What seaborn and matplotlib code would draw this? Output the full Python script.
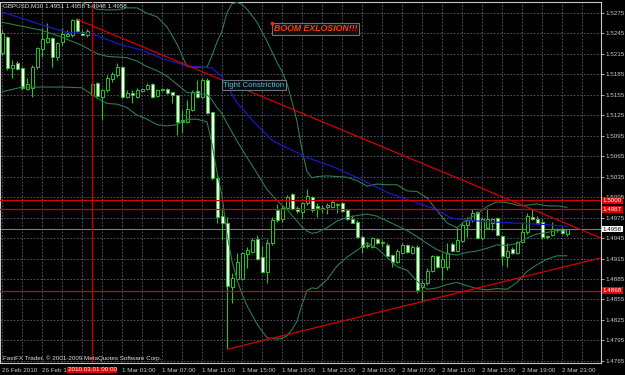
import matplotlib
matplotlib.use("Agg")
import matplotlib.pyplot as plt
import matplotlib.transforms as mtransforms
import pandas as pd
import seaborn as sns

# GBPUSD M30, values
bar_times = list(pd.date_range("2010-02-26 14:00", "2010-02-26 22:30", freq="30min")) + \
    list(pd.date_range("2010-03-01 00:00", "2010-03-02 23:30", freq="30min"))

opens = [1.5216, 1.5239, 1.5194, 1.5201, 1.5194, 1.5163, 1.5165, 1.5195, 1.5222, 1.5232,
         1.5238, 1.5210, 1.5232, 1.5241, 1.5242, 1.5266, 1.5247, 1.5242, 1.5154, 1.5172,
         1.5151, 1.5162, 1.5178, 1.5184, 1.5195, 1.5151, 1.5157, 1.5151, 1.5160, 1.5163,
         1.5170, 1.5153, 1.5162, 1.5163, 1.5159, 1.5154, 1.5118, 1.5115, 1.5132, 1.5160,
         1.5151, 1.5176, 1.5129, 1.5033, 1.4977, 1.4967, 1.4873, 1.4885, 1.4885, 1.4921,
         1.4924, 1.4943, 1.4917, 1.4895, 1.4938, 1.4986, 1.4973, 1.4989, 1.5009, 1.4989,
         1.4983, 1.4996, 1.5005, 1.4992, 1.4989, 1.4990, 1.4990, 1.4993, 1.4996, 1.4986,
         1.4973, 1.4968, 1.4946, 1.4933, 1.4932, 1.4943, 1.4938, 1.4935, 1.4920, 1.4910,
         1.4923, 1.4935, 1.4923, 1.4932, 1.4873, 1.4879, 1.4897, 1.4919, 1.4902, 1.4902,
         1.4936, 1.4926, 1.4940, 1.4964, 1.4971, 1.4983, 1.4945, 1.4960, 1.4967, 1.4974,
         1.4948, 1.4917, 1.4929, 1.4923, 1.4939, 1.4954, 1.4976, 1.4973, 1.4968, 1.4948,
         1.4949, 1.4957, 1.4958, 1.4951]
highs = [1.5249, 1.5241, 1.5206, 1.5204, 1.5195, 1.5179, 1.5198, 1.5224, 1.5252, 1.5260,
         1.5239, 1.5232, 1.5252, 1.5249, 1.5266, 1.5267, 1.5249, 1.5251, 1.5172, 1.5173,
         1.5163, 1.5184, 1.5188, 1.5201, 1.5197, 1.5162, 1.5162, 1.5165, 1.5165, 1.5172,
         1.5172, 1.5163, 1.5165, 1.5165, 1.5159, 1.5154, 1.5132, 1.5147, 1.5162, 1.5176,
         1.5179, 1.5179, 1.5129, 1.5040, 1.4989, 1.4976, 1.4894, 1.4923, 1.4924, 1.4932,
         1.4945, 1.4949, 1.4933, 1.4943, 1.4976, 1.4995, 1.4993, 1.5008, 1.5011, 1.4992,
         1.4998, 1.5017, 1.5006, 1.4996, 1.4993, 1.4996, 1.5000, 1.4996, 1.4998, 1.4987,
         1.4979, 1.4971, 1.4949, 1.4939, 1.4946, 1.4945, 1.4942, 1.4938, 1.4921, 1.4929,
         1.4938, 1.4936, 1.4935, 1.4935, 1.4883, 1.4901, 1.4920, 1.4920, 1.4923, 1.4938,
         1.4939, 1.4961, 1.4967, 1.4976, 1.4987, 1.4984, 1.4976, 1.4989, 1.4974, 1.4976,
         1.4949, 1.4938, 1.4932, 1.4940, 1.4968, 1.4981, 1.4987, 1.4977, 1.4973, 1.4949,
         1.4968, 1.4960, 1.4961, 1.4958]
lows = [1.5213, 1.5191, 1.5179, 1.5191, 1.5162, 1.5162, 1.5151, 1.5192, 1.5210, 1.5230,
        1.5195, 1.5206, 1.5227, 1.5239, 1.5239, 1.5247, 1.5242, 1.5239, 1.5147, 1.5151,
        1.5118, 1.5159, 1.5173, 1.5181, 1.5150, 1.5150, 1.5143, 1.5150, 1.5159, 1.5162,
        1.5150, 1.5151, 1.5160, 1.5156, 1.5143, 1.5096, 1.5099, 1.5113, 1.5131, 1.5150,
        1.5150, 1.5126, 1.5030, 1.4967, 1.4942, 1.4782, 1.4850, 1.4883, 1.4883, 1.4901,
        1.4923, 1.4913, 1.4894, 1.4879, 1.4935, 1.4968, 1.4968, 1.4986, 1.4986, 1.4981,
        1.4974, 1.4993, 1.4983, 1.4976, 1.4981, 1.4980, 1.4989, 1.4981, 1.4983, 1.4971,
        1.4967, 1.4945, 1.4923, 1.4930, 1.4930, 1.4936, 1.4932, 1.4917, 1.4902, 1.4908,
        1.4921, 1.4923, 1.4921, 1.4864, 1.4851, 1.4876, 1.4895, 1.4901, 1.4883, 1.4898,
        1.4924, 1.4924, 1.4939, 1.4946, 1.4968, 1.4943, 1.4942, 1.4958, 1.4957, 1.4948,
        1.4905, 1.4902, 1.4921, 1.4921, 1.4938, 1.4951, 1.4971, 1.4965, 1.4943, 1.4943,
        1.4948, 1.4954, 1.4951, 1.4948]
closes = [1.5245, 1.5194, 1.5198, 1.5192, 1.5165, 1.5170, 1.5195, 1.5223, 1.5236, 1.5238,
          1.5210, 1.5230, 1.5244, 1.5244, 1.5264, 1.5248, 1.5242, 1.5248, 1.5170, 1.5153,
          1.5162, 1.5179, 1.5185, 1.5195, 1.5151, 1.5157, 1.5154, 1.5162, 1.5163, 1.5169,
          1.5151, 1.5162, 1.5163, 1.5157, 1.5154, 1.5115, 1.5115, 1.5134, 1.5159, 1.5151,
          1.5176, 1.5128, 1.5033, 1.4976, 1.4967, 1.4875, 1.4886, 1.4910, 1.4923, 1.4927,
          1.4942, 1.4914, 1.4895, 1.4938, 1.4971, 1.4971, 1.4989, 1.5005, 1.4987, 1.4984,
          1.4996, 1.5006, 1.4986, 1.4989, 1.4987, 1.4993, 1.4998, 1.4995, 1.4984, 1.4973,
          1.4967, 1.4946, 1.4932, 1.4935, 1.4945, 1.4938, 1.4939, 1.4919, 1.4910, 1.4926,
          1.4935, 1.4924, 1.4932, 1.4869, 1.4879, 1.4897, 1.4919, 1.4902, 1.4914, 1.4923,
          1.4926, 1.4942, 1.4964, 1.4971, 1.4981, 1.4945, 1.4973, 1.4973, 1.4973, 1.4949,
          1.4919, 1.4926, 1.4923, 1.4939, 1.4954, 1.4977, 1.4973, 1.4967, 1.4946, 1.4946,
          1.4958, 1.4958, 1.4952, 1.4958]

# Bollinger bands (read at every second bar or so)
band_idx = [0, 4, 8, 12, 16, 19, 21, 23, 25, 27, 29, 31, 33, 35, 37, 39, 41, 42, 43, 44,
            45, 46, 47, 48, 49, 51, 53, 55, 56, 57, 58, 59, 60, 61, 62, 63, 65, 67, 69, 71,
            73, 75, 77, 79, 81, 83, 85, 87, 89, 91, 93, 95, 97, 99, 101, 103, 105, 107, 109,
            111, 113]
band_upper = [1.5364, 1.5345, 1.5333, 1.5312, 1.5290, 1.5280, 1.5279, 1.5279, 1.5282, 1.5282,
              1.5274, 1.5269, 1.5254, 1.5229, 1.5196, 1.5195, 1.5195, 1.5212, 1.5232, 1.5248,
              1.5275, 1.5288, 1.5290, 1.5287, 1.5280, 1.5261, 1.5233, 1.5202, 1.5189, 1.5171,
              1.5145, 1.5116, 1.5074, 1.5042, 1.5033, 1.5035, 1.5036, 1.5035, 1.5034, 1.5029,
              1.5021, 1.5024, 1.5023, 1.5023, 1.5014, 1.5013, 1.5004, 1.4985, 1.4967, 1.4960,
              1.4972, 1.4980, 1.4991, 1.4998, 1.4997, 1.4993, 1.4993, 1.4995, 1.4992, 1.4992,
              1.4990]
band_mid = [1.5261, 1.5255, 1.5249, 1.5239, 1.5227, 1.5215, 1.5211, 1.5210, 1.5209, 1.5204,
            1.5196, 1.5190, 1.5182, 1.5170, 1.5158, 1.5157, 1.5155, 1.5147, 1.5136, 1.5127,
            1.5113, 1.5100, 1.5087, 1.5075, 1.5063, 1.5040, 1.5016, 1.5000, 1.4993, 1.4987,
            1.4978, 1.4970, 1.4961, 1.4955, 1.4952, 1.4953, 1.4960, 1.4970, 1.4975, 1.4978,
            1.4980, 1.4977, 1.4970, 1.4963, 1.4956, 1.4947, 1.4937, 1.4928, 1.4922, 1.4920,
            1.4924, 1.4926, 1.4930, 1.4935, 1.4934, 1.4937, 1.4945, 1.4951, 1.4953, 1.4956,
            1.4955]
band_lower = [1.5159, 1.5166, 1.5166, 1.5166, 1.5165, 1.5150, 1.5142, 1.5141, 1.5136, 1.5125,
              1.5119, 1.5111, 1.5109, 1.5111, 1.5119, 1.5119, 1.5115, 1.5083, 1.5041, 1.5007,
              1.4951, 1.4911, 1.4884, 1.4863, 1.4846, 1.4819, 1.4799, 1.4797, 1.4798, 1.4802,
              1.4811, 1.4823, 1.4848, 1.4868, 1.4872, 1.4871, 1.4884, 1.4904, 1.4917, 1.4927,
              1.4938, 1.4930, 1.4917, 1.4903, 1.4898, 1.4882, 1.4870, 1.4872, 1.4877, 1.4880,
              1.4875, 1.4871, 1.4869, 1.4871, 1.4870, 1.4880, 1.4896, 1.4906, 1.4914, 1.4919,
              1.4919]

# blue moving average
ma_idx = [0, 8, 13, 18, 23, 28, 32, 37, 42, 44, 47, 50, 54, 57, 61, 67, 72, 77, 82, 86,
          90, 95, 102, 108, 113]
ma_vals = [1.5276, 1.5257, 1.5246, 1.5244, 1.5230, 1.5220, 1.5208, 1.5197, 1.5194, 1.5181,
           1.5143, 1.5118, 1.5088, 1.5077, 1.5063, 1.5047, 1.5030, 1.5012, 1.4999, 1.4989,
           1.4974, 1.4970, 1.4967, 1.4965, 1.4962]

# drawn objects
trend_hi_idx, trend_hi_px = [15, 119.8], [1.5265, 1.4945]
trend_lo_idx, trend_lo_px = [45, 119.8], [1.4782, 1.4916]
level_lines = [1.5000, 1.4987, 1.4868]
bid_price = 1.4958
vline_idx = 18
price_ticks = [1.4765 + 0.003 * k for k in range(18)]

BG = "#000000"
GRID = "#5a6270"
CANDLE = "#26c426"
BAND = "#2e7a4e"
MA_BLUE = "#1818c8"
RED = "#d40000"
AXC = "#c8c8c8"
FS = 4.5

sns.set_theme(style="dark", rc={
    "axes.facecolor": BG,
    "figure.facecolor": BG,
    "axes.edgecolor": AXC,
    "xtick.color": AXC,
    "ytick.color": AXC,
    "text.color": "white",
})
plt.rcParams["font.family"] = ["Liberation Sans", "DejaVu Sans"]

fig = plt.figure(figsize=(6.25, 3.75), dpi=100)
ax = fig.add_axes([0.0, 12 / 375, 601 / 625, 361.3 / 375])
ax.set_xlim(-0.4, 119.8)
ax.set_ylim(1.4762, 1.5291)

# grid
ax.set_yticks(price_ticks)
ax.set_yticklabels([f"{p:.4f}" for p in price_ticks])
ax.yaxis.tick_right()
lbl_pos = [i for i in range(0, len(bar_times), 8) if i != 16]
lbl_txt = []
for i in lbl_pos:
    t = bar_times[i]
    lbl_txt.append("26 Feb 2010" if i == 0 else f"{t.day} {t:%b %H:%M}")
ax.set_xticks(lbl_pos)
ax.set_xticklabels(lbl_txt)
ax.set_xticks(list(range(0, 120, 4)), minor=True)
ax.grid(True, which="both", axis="x", color=GRID, linestyle=(0, (2, 2)), linewidth=0.6)
ax.grid(True, which="major", axis="y", color=GRID, linestyle=(0, (2, 2)), linewidth=0.6)
ax.tick_params(axis="x", which="minor", length=0)
ax.tick_params(axis="x", which="major", length=2.5, width=0.6, labelsize=FS, pad=1)
ax.tick_params(axis="y", length=2, width=0.6, labelsize=FS, pad=1, right=True, left=False)
for t in ax.get_xticklabels():
    t.set_horizontalalignment("left")
for s in ax.spines.values():
    s.set_color(AXC)
    s.set_linewidth(0.8)

# candles
idx = list(range(len(opens)))
ax.vlines(idx, lows, highs, color=CANDLE, linewidth=0.8, zorder=2)
bottoms = [min(o, c) for o, c in zip(opens, closes)]
heights = [max(abs(c - o), 0.00003) for o, c in zip(opens, closes)]
faces = ["black" if c >= o else "white" for o, c in zip(opens, closes)]
ax.bar(idx, heights, bottom=bottoms, width=0.6, color=faces, edgecolor=CANDLE,
       linewidth=0.7, zorder=2.5)

# indicators
for band in (band_upper, band_mid, band_lower):
    sns.lineplot(x=band_idx, y=band, color=BAND, linewidth=0.8, ax=ax, zorder=3)
sns.lineplot(x=ma_idx, y=ma_vals, color=MA_BLUE, linewidth=0.9, ax=ax, zorder=3)
ax.set_xlabel("")
ax.set_ylabel("")

# objects
for lv in level_lines:
    ax.axhline(lv, color=RED, linewidth=0.9, zorder=4)
ax.axhline(bid_price, color="#7a7a7a", linewidth=0.8, zorder=1.5)
ax.axvline(vline_idx, color="#c00000", linewidth=1.0, zorder=4)
ax.plot(trend_hi_idx, trend_hi_px, color=RED, linewidth=0.9, zorder=4)
ax.plot(trend_lo_idx, trend_lo_px, color=RED, linewidth=0.9, zorder=4)

ax.text(54.3, 1.5258, "BOOM EXLOSION!!!", color="#ff3c00", fontsize=6.3, fontweight="bold",
        fontstyle="italic", va="top", ha="left", zorder=5,
        bbox=dict(facecolor="#0c0e10", edgecolor="#6c7278", linewidth=0.8, pad=1.2))
ax.plot(54, 1.5260, marker="s", markersize=1.5, color="#ff2000", zorder=6)
ax.text(44.2, 1.5174, "Tight Constriction", color="#4cb8d8", fontsize=5.7, va="top", ha="left",
        zorder=5, bbox=dict(facecolor="#0c0e10", edgecolor="#6c7278", linewidth=0.8, pad=1.0))

ax.text(0.005, 0.996, "GBPUSD,M30 1.4951 1.4958 1.4948 1.4958", transform=ax.transAxes,
        va="top", ha="left", fontsize=FS, color="#e0e0e0", zorder=6)
ax.text(0.005, 0.006, "FastFX Trader, \u00a9 2001-2009 MetaQuotes Software Corp.",
        transform=ax.transAxes, va="bottom", ha="left", fontsize=FS, color="#e0e0e0", zorder=6)

# axis badges
ytr = mtransforms.blended_transform_factory(ax.transAxes, ax.transData)
for lv in level_lines:
    ax.text(1.003, lv, f"{lv:.4f}", transform=ytr, fontsize=FS, color="white", va="center",
            ha="left", clip_on=False, zorder=7,
            bbox=dict(facecolor="#e00000", edgecolor="none", pad=0.6))
ax.text(1.003, bid_price, f"{bid_price:.4f}", transform=ytr, fontsize=FS, color="black",
        va="center", ha="left", clip_on=False, zorder=7,
        bbox=dict(facecolor="white", edgecolor="none", pad=0.6))
xtr = mtransforms.blended_transform_factory(ax.transData, ax.transAxes)
ax.text(vline_idx, -0.012, f"{bar_times[vline_idx]:%Y.%m.%d %H:%M}", transform=xtr,
        fontsize=FS, color="white", va="top", ha="center", clip_on=False, zorder=7,
        bbox=dict(facecolor="#e00000", edgecolor="none", pad=0.6))

fig.savefig("out.png", dpi=100, facecolor=BG)
